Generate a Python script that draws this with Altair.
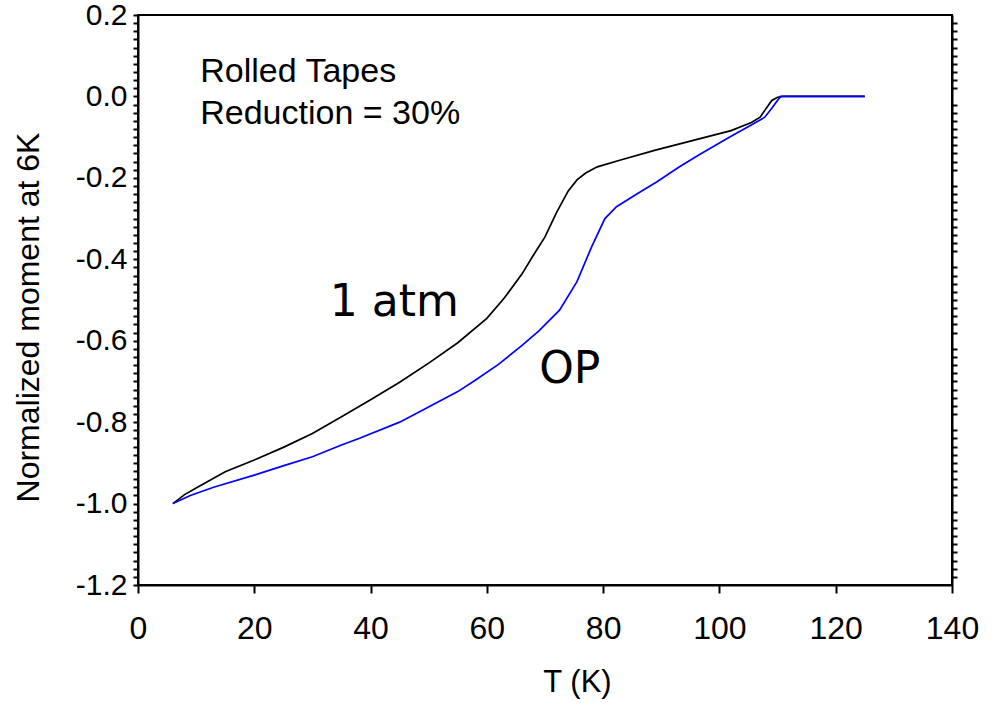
import altair as alt
import pandas as pd

# 1 atm curve (black)
t_atm = [6, 8, 10, 15, 20, 25, 30, 35, 40, 45, 50, 55, 60, 63, 66, 68, 70, 72, 74, 75.5, 77, 79, 83, 89, 96, 102, 105.5, 107, 108, 109, 110, 111, 125]
m_atm = [-1.0, -0.978, -0.962, -0.922, -0.893, -0.862, -0.828, -0.787, -0.745, -0.702, -0.655, -0.605, -0.545, -0.495, -0.437, -0.39, -0.345, -0.285, -0.232, -0.205, -0.188, -0.173, -0.156, -0.132, -0.106, -0.084, -0.064, -0.051, -0.03, -0.01, -0.002, 0.0, 0.0]

# OP curve (blue)
t_op = [6, 9, 13, 20, 25.5, 30, 35, 38, 45, 49, 55, 58, 62, 66, 69, 72.5, 75.5, 78, 80.3, 82.3, 86, 89.2, 93, 96.3, 102, 105.4, 107.8, 109.1, 110.5, 125]
m_op = [-1.0, -0.98, -0.96, -0.93, -0.905, -0.885, -0.856, -0.84, -0.80, -0.77, -0.725, -0.697, -0.658, -0.612, -0.575, -0.525, -0.455, -0.37, -0.30, -0.271, -0.238, -0.21, -0.174, -0.145, -0.098, -0.071, -0.051, -0.027, 0.0, 0.0]

x_ticks = [0, 20, 40, 60, 80, 100, 120, 140]
y_minor = [round(-1.2 + 0.02 * i, 2) for i in range(71)]
y_right = [v for v in y_minor if abs(v * 5 - round(v * 5)) > 1e-6]

notes_text = ["Rolled Tapes", "Reduction = 30%"]
notes_t = [10.7, 10.7]
notes_m = [0.06, -0.042]

curve_labels = ["1 atm", "OP"]
curve_label_t = [33.0, 69.0]
curve_label_m = [-0.507, -0.672]

df = pd.concat([
    pd.DataFrame({"T": t_atm, "M": m_atm, "series": "1 atm"}),
    pd.DataFrame({"T": t_op, "M": m_op, "series": "OP"}),
])
notes = pd.DataFrame({"T": notes_t, "M": notes_m, "text": notes_text})
clabels = pd.DataFrame({"T": curve_label_t, "M": curve_label_m, "text": curve_labels})

FONT = "Liberation Sans"
xscale = alt.Scale(domain=[0, 140], nice=False, zero=False)
yscale = alt.Scale(domain=[-1.2, 0.2], nice=False, zero=False)

xaxis = alt.Axis(
    values=x_ticks, title="T (K)", grid=False, tickSize=8, tickWidth=2,
    tickColor="black", domainColor="black", domainWidth=2,
    labelFont=FONT, labelFontSize=32, labelColor="black", labelPadding=20,
    labelFlush=False, labelOverlap=False, titleFont=FONT, titleFontSize=31,
    titleFontWeight="normal", titleColor="black", titleX=439, titleY=97,
    titleBaseline="middle",
)
label_expr = ("abs(datum.value*5 - round(datum.value*5)) < 0.000001 ? "
              "replace(format(datum.value, '.1f'), '\u2212', '-') : ''")
yaxis_left = alt.Axis(
    values=y_minor, labelExpr=label_expr, title="Normalized moment at 6K",
    orient="left", grid=False, tickSize=5, tickWidth=2, tickColor="black",
    domainColor="black", domainWidth=2, labelFont=FONT, labelFontSize=30,
    labelColor="black", labelPadding=6, labelFlush=False, labelOverlap=False,
    titleFont=FONT, titleFontSize=32, titleFontWeight="normal",
    titleColor="black", titleX=-110, titleY=302, titleAlign="center",
    titleBaseline="middle", titleAngle=270,
)
yaxis_right = alt.Axis(
    values=y_right, labels=False, title=None, orient="right", grid=False,
    tickSize=5, tickWidth=2, tickColor="black", domainColor="black",
    domainWidth=2,
)

lines = alt.Chart(df).mark_line(strokeWidth=1.7).encode(
    x=alt.X("T:Q", scale=xscale, axis=xaxis),
    y=alt.Y("M:Q", scale=yscale, axis=yaxis_left),
    color=alt.Color("series:N", scale=alt.Scale(domain=["1 atm", "OP"], range=["#000000", "#0000ff"]), legend=None),
)

right = alt.Chart(df).mark_line(opacity=0).encode(
    x=alt.X("T:Q", scale=xscale),
    y=alt.Y("M:Q", scale=yscale, axis=yaxis_right),
    detail="series:N",
)

note_marks = alt.Chart(notes).mark_text(
    font=FONT, fontSize=34, align="left", baseline="middle", color="black"
).encode(
    x=alt.X("T:Q", scale=xscale),
    y=alt.Y("M:Q", scale=yscale, axis=None),
    text="text:N",
)

curve_marks = alt.Chart(clabels).mark_text(
    font="DejaVu Sans", fontSize=44, align="left", baseline="middle", color="black"
).encode(
    x=alt.X("T:Q", scale=xscale),
    y=alt.Y("M:Q", scale=yscale, axis=None),
    text="text:N",
)

chart = alt.layer(lines, right, note_marks, curve_marks).resolve_scale(
    y="independent"
).properties(
    width=814, height=570,
    autosize=alt.AutoSizeParams(type="none"),
    padding={"left": 138, "top": 15, "right": 42, "bottom": 120},
).configure(
    background="white",
    view=alt.ViewConfig(stroke="black", strokeWidth=2),
)

chart.save("out.html", embed_options={"renderer": "svg", "actions": False})
